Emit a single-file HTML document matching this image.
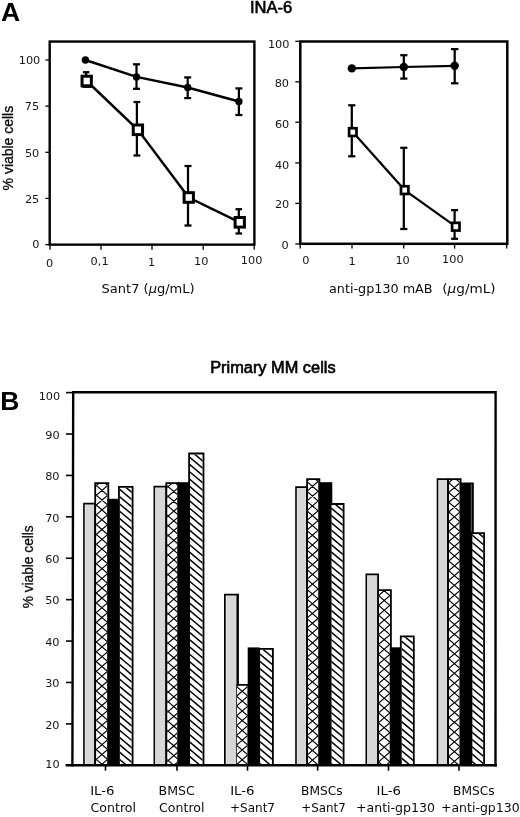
<!DOCTYPE html>
<html lang="en"><head><meta charset="utf-8"><title>INA-6 / Primary MM cells viability</title>
<style>
html,body{margin:0;padding:0;background:#fff;}
body{width:520px;height:817px;overflow:hidden;}
svg{display:block;will-change:transform;}
.dv{font-family:"DejaVu Sans", "Liberation Sans", sans-serif;}
.lb{font-family:"Liberation Sans", "DejaVu Sans", sans-serif;}
.tk{font-family:"DejaVu Sans", "Liberation Sans", sans-serif;font-size:11.3px;fill:#151515;}
.ax{font-family:"DejaVu Sans", "Liberation Sans", sans-serif;font-size:13px;fill:#0a0a0a;}
.cat{font-family:"DejaVu Sans", "Liberation Sans", sans-serif;font-size:13px;fill:#0a0a0a;}
.yl{font-family:"Liberation Sans", "DejaVu Sans", sans-serif;font-size:14px;fill:#0a0a0a;stroke:#0a0a0a;stroke-width:0.3px;}
.ttl{font-family:"Liberation Sans", "DejaVu Sans", sans-serif;font-size:15.8px;fill:#000;stroke:#000;stroke-width:0.6px;}
.pan{font-family:"Liberation Sans", "DejaVu Sans", sans-serif;font-size:26.5px;font-weight:bold;fill:#000;}
.ln{stroke:#000;fill:none;}
</style></head><body>
<svg width="520" height="817" viewBox="0 0 520 817" role="img" aria-label="Cell viability charts">
<rect x="0" y="0" width="520" height="817" fill="#fff"/>
<text class="pan" x="1" y="20.9">A</text>
<text class="pan" x="0.3" y="409.5">B</text>
<text class="ttl" x="250" y="13.3" textLength="42.3" lengthAdjust="spacingAndGlyphs">INA-6</text>
<text class="ttl" x="210.2" y="373" textLength="125.4" lengthAdjust="spacingAndGlyphs">Primary MM cells</text>
<g id="chartA1">
<rect class="ln" x="49.7" y="41.55" width="204.7" height="203.1" stroke-width="2.4"/>
<line class="ln" x1="45.4" y1="60" x2="49" y2="60" stroke-width="1.3"/>
<line class="ln" x1="45.4" y1="106.1" x2="49" y2="106.1" stroke-width="1.3"/>
<line class="ln" x1="45.4" y1="152.3" x2="49" y2="152.3" stroke-width="1.3"/>
<line class="ln" x1="45.4" y1="198.4" x2="49" y2="198.4" stroke-width="1.3"/>
<line class="ln" x1="45.4" y1="244.6" x2="49" y2="244.6" stroke-width="1.3"/>
<line class="ln" x1="50" y1="245.5" x2="50" y2="249.8" stroke-width="1.3"/>
<line class="ln" x1="101" y1="245.5" x2="101" y2="249.8" stroke-width="1.3"/>
<line class="ln" x1="152" y1="245.5" x2="152" y2="249.8" stroke-width="1.3"/>
<line class="ln" x1="203.2" y1="245.5" x2="203.2" y2="249.8" stroke-width="1.3"/>
<line class="ln" x1="254.2" y1="245.5" x2="254.2" y2="249.8" stroke-width="1.3"/>
<text class="tk" x="40.3" y="64.3" text-anchor="end">100</text>
<text class="tk" x="39.2" y="109.6" text-anchor="end">75</text>
<text class="tk" x="39.3" y="156.6" text-anchor="end">50</text>
<text class="tk" x="39.3" y="202.7" text-anchor="end">25</text>
<text class="tk" x="39.5" y="248" text-anchor="end">0</text>
<text class="tk" x="49.7" y="266.5" text-anchor="middle">0</text>
<text class="tk" x="99.6" y="265" text-anchor="middle">0,1</text>
<text class="tk" x="151.7" y="266" text-anchor="middle">1</text>
<text class="tk" x="201.3" y="264.6" text-anchor="middle">10</text>
<text class="tk" x="251.6" y="264" text-anchor="middle">100</text>
<text class="ax" x="101.5" y="292.6" textLength="93.2" lengthAdjust="spacingAndGlyphs">Sant7 (<tspan font-style="italic">µ</tspan>g/mL)</text>
<text class="yl" transform="translate(12.7 190.4) rotate(-90)" textLength="84.6" lengthAdjust="spacingAndGlyphs">% viable cells</text>
<polyline class="ln" stroke-width="2.45" points="85.4,60 136.5,76.9 187.7,87.5 238.9,101.5"/>
<line class="ln" x1="136.5" y1="64.3" x2="136.5" y2="88.8" stroke-width="2.25"/>
<line class="ln" x1="133" y1="64.3" x2="140" y2="64.3" stroke-width="2.25"/>
<line class="ln" x1="133" y1="88.8" x2="140" y2="88.8" stroke-width="2.25"/>
<line class="ln" x1="187.7" y1="77.4" x2="187.7" y2="98.1" stroke-width="2.25"/>
<line class="ln" x1="184.2" y1="77.4" x2="191.2" y2="77.4" stroke-width="2.25"/>
<line class="ln" x1="184.2" y1="98.1" x2="191.2" y2="98.1" stroke-width="2.25"/>
<line class="ln" x1="238.9" y1="88.4" x2="238.9" y2="115" stroke-width="2.25"/>
<line class="ln" x1="235.4" y1="88.4" x2="242.4" y2="88.4" stroke-width="2.25"/>
<line class="ln" x1="235.4" y1="115" x2="242.4" y2="115" stroke-width="2.25"/>
<circle cx="85.4" cy="60" r="3.7" fill="#000"/>
<circle cx="136.5" cy="76.9" r="3.7" fill="#000"/>
<circle cx="187.7" cy="87.5" r="3.7" fill="#000"/>
<circle cx="238.9" cy="101.5" r="3.7" fill="#000"/>
<polyline class="ln" stroke-width="2.45" points="86.7,81 137.9,129.8 188.75,197.5 239.75,222.3"/>
<line class="ln" x1="86.2" y1="72.2" x2="86.2" y2="76" stroke-width="2.25"/>
<line class="ln" x1="83" y1="72.2" x2="89.4" y2="72.2" stroke-width="2.25"/>
<line class="ln" x1="82.2" y1="87" x2="91.6" y2="87" stroke-width="1.8"/>
<line class="ln" x1="136.9" y1="102" x2="136.9" y2="155.5" stroke-width="2.25"/>
<line class="ln" x1="133.5" y1="102" x2="140.3" y2="102" stroke-width="2.25"/>
<line class="ln" x1="133.5" y1="155.5" x2="140.3" y2="155.5" stroke-width="2.25"/>
<line class="ln" x1="188" y1="166" x2="188" y2="225.5" stroke-width="2.25"/>
<line class="ln" x1="184.5" y1="166" x2="191.5" y2="166" stroke-width="2.25"/>
<line class="ln" x1="184.5" y1="225.5" x2="191.5" y2="225.5" stroke-width="2.25"/>
<line class="ln" x1="238.8" y1="209.2" x2="238.8" y2="233.5" stroke-width="2.25"/>
<line class="ln" x1="235.5" y1="209.2" x2="242.1" y2="209.2" stroke-width="2.25"/>
<line class="ln" x1="235.5" y1="233.5" x2="242.1" y2="233.5" stroke-width="2.25"/>
<rect x="82.05" y="76.2" width="9.3" height="9.6" fill="#fff" stroke="#000" stroke-width="3"/>
<rect x="133.25" y="125" width="9.3" height="9.6" fill="#fff" stroke="#000" stroke-width="3"/>
<rect x="184.1" y="192.7" width="9.3" height="9.6" fill="#fff" stroke="#000" stroke-width="3"/>
<rect x="235.1" y="217.5" width="9.3" height="9.6" fill="#fff" stroke="#000" stroke-width="3"/>
</g>
<g id="chartA2">
<rect class="ln" x="300.3" y="41.5" width="207" height="202.3" stroke-width="2.5"/>
<line class="ln" x1="295.3" y1="41.3" x2="299.5" y2="41.3" stroke-width="1.3"/>
<line class="ln" x1="295.3" y1="81.8" x2="299.5" y2="81.8" stroke-width="1.3"/>
<line class="ln" x1="295.3" y1="122.2" x2="299.5" y2="122.2" stroke-width="1.3"/>
<line class="ln" x1="295.3" y1="162.9" x2="299.5" y2="162.9" stroke-width="1.3"/>
<line class="ln" x1="295.3" y1="203.4" x2="299.5" y2="203.4" stroke-width="1.3"/>
<line class="ln" x1="295.3" y1="244" x2="299.5" y2="244" stroke-width="1.3"/>
<line class="ln" x1="300.2" y1="244.5" x2="300.2" y2="248.6" stroke-width="1.3"/>
<line class="ln" x1="352" y1="244.5" x2="352" y2="248.6" stroke-width="1.3"/>
<line class="ln" x1="403.7" y1="244.5" x2="403.7" y2="248.6" stroke-width="1.3"/>
<line class="ln" x1="454.6" y1="244.5" x2="454.6" y2="248.6" stroke-width="1.3"/>
<line class="ln" x1="506.7" y1="244.5" x2="506.7" y2="248.6" stroke-width="1.3"/>
<text class="tk" x="289.5" y="47.8" text-anchor="end">100</text>
<text class="tk" x="289" y="86.8" text-anchor="end">80</text>
<text class="tk" x="289.3" y="128.2" text-anchor="end">60</text>
<text class="tk" x="289.3" y="169" text-anchor="end">40</text>
<text class="tk" x="289.3" y="207.5" text-anchor="end">20</text>
<text class="tk" x="288.6" y="249.3" text-anchor="end">0</text>
<text class="tk" x="305.9" y="264.3" text-anchor="middle">0</text>
<text class="tk" x="352.2" y="265" text-anchor="middle">1</text>
<text class="tk" x="402.6" y="263.5" text-anchor="middle">10</text>
<text class="tk" x="452.9" y="263" text-anchor="middle">100</text>
<text class="ax" x="329" y="292.8" textLength="103.6" lengthAdjust="spacingAndGlyphs">anti-gp130 mAB</text>
<text class="ax" x="442.3" y="292.8" textLength="53.4" lengthAdjust="spacingAndGlyphs">(<tspan font-style="italic">µ</tspan>g/mL)</text>
<polyline class="ln" stroke-width="2.2" points="351.8,68.4 403.8,67 454.7,65.8"/>
<line class="ln" x1="403.8" y1="55.2" x2="403.8" y2="78.6" stroke-width="2.25"/>
<line class="ln" x1="400.2" y1="55.2" x2="407.4" y2="55.2" stroke-width="2.25"/>
<line class="ln" x1="400.2" y1="78.6" x2="407.4" y2="78.6" stroke-width="2.25"/>
<line class="ln" x1="454.7" y1="49.1" x2="454.7" y2="83.3" stroke-width="2.25"/>
<line class="ln" x1="451" y1="49.1" x2="458.4" y2="49.1" stroke-width="2.25"/>
<line class="ln" x1="451" y1="83.3" x2="458.4" y2="83.3" stroke-width="2.25"/>
<circle cx="351.8" cy="68.4" r="4.2" fill="#000"/>
<circle cx="403.8" cy="67" r="4.2" fill="#000"/>
<circle cx="454.7" cy="65.8" r="4.2" fill="#000"/>
<polyline class="ln" stroke-width="2.2" points="352.8,132.1 404.7,190.1 455.8,226.7"/>
<line class="ln" x1="351.8" y1="105.3" x2="351.8" y2="156.3" stroke-width="2.25"/>
<line class="ln" x1="348.2" y1="105.3" x2="355.4" y2="105.3" stroke-width="2.25"/>
<line class="ln" x1="348.2" y1="156.3" x2="355.4" y2="156.3" stroke-width="2.25"/>
<line class="ln" x1="403.8" y1="147.8" x2="403.8" y2="229" stroke-width="2.25"/>
<line class="ln" x1="400.2" y1="147.8" x2="407.4" y2="147.8" stroke-width="2.25"/>
<line class="ln" x1="400.2" y1="229" x2="407.4" y2="229" stroke-width="2.25"/>
<line class="ln" x1="454.6" y1="210.1" x2="454.6" y2="238.8" stroke-width="2.25"/>
<line class="ln" x1="451.1" y1="210.1" x2="458.1" y2="210.1" stroke-width="2.25"/>
<line class="ln" x1="451.1" y1="238.8" x2="458.1" y2="238.8" stroke-width="2.25"/>
<rect x="349.1" y="128.25" width="7.4" height="7.7" fill="#fff" stroke="#000" stroke-width="2.7"/>
<rect x="401" y="186.25" width="7.4" height="7.7" fill="#fff" stroke="#000" stroke-width="2.7"/>
<rect x="452.1" y="222.85" width="7.4" height="7.7" fill="#fff" stroke="#000" stroke-width="2.7"/>
</g>
<g id="chartB">
<rect x="83.95" y="503.60" width="11.25" height="261.70" fill="#f1f1f1"/>
<rect x="85.55" y="504.65" width="9.65" height="260.65" fill="#d7d7d7"/>
<path fill="#000" d="M83.15,765.30V502.75H96.10V765.30H94.30V504.45H84.75V765.30Z"/>
<clipPath id="c1"><rect x="96.10" y="484.10" width="11.30" height="281.20"/></clipPath>
<rect x="96.10" y="484.10" width="11.30" height="281.20" fill="#fff"/>
<path clip-path="url(#c1)" d="M95.1,455.2L108.4,466.6M95.1,466.9L108.4,455.5M95.1,465.0L108.4,476.4M95.1,476.7L108.4,465.3M95.1,474.7L108.4,486.2M95.1,486.5L108.4,475.1M95.1,484.5L108.4,495.9M95.1,496.3L108.4,484.9M95.1,494.3L108.4,505.7M95.1,506.1L108.4,494.6M95.1,504.1L108.4,515.5M95.1,515.8L108.4,504.4M95.1,513.9L108.4,525.3M95.1,525.6L108.4,514.2M95.1,523.6L108.4,535.1M95.1,535.4L108.4,524.0M95.1,533.4L108.4,544.8M95.1,545.2L108.4,533.8M95.1,543.2L108.4,554.6M95.1,555.0L108.4,543.5M95.1,553.0L108.4,564.4M95.1,564.7L108.4,553.3M95.1,562.8L108.4,574.2M95.1,574.5L108.4,563.1M95.1,572.5L108.4,584.0M95.1,584.3L108.4,572.9M95.1,582.3L108.4,593.7M95.1,594.1L108.4,582.7M95.1,592.1L108.4,603.5M95.1,603.9L108.4,592.4M95.1,601.9L108.4,613.3M95.1,613.6L108.4,602.2M95.1,611.7L108.4,623.1M95.1,623.4L108.4,612.0M95.1,621.4L108.4,632.9M95.1,633.2L108.4,621.8M95.1,631.2L108.4,642.6M95.1,643.0L108.4,631.6M95.1,641.0L108.4,652.4M95.1,652.8L108.4,641.3M95.1,650.8L108.4,662.2M95.1,662.5L108.4,651.1M95.1,660.6L108.4,672.0M95.1,672.3L108.4,660.9M95.1,670.3L108.4,681.8M95.1,682.1L108.4,670.7M95.1,680.1L108.4,691.5M95.1,691.9L108.4,680.5M95.1,689.9L108.4,701.3M95.1,701.7L108.4,690.2M95.1,699.7L108.4,711.1M95.1,711.4L108.4,700.0M95.1,709.5L108.4,720.9M95.1,721.2L108.4,709.8M95.1,719.2L108.4,730.7M95.1,731.0L108.4,719.6M95.1,729.0L108.4,740.4M95.1,740.8L108.4,729.4M95.1,738.8L108.4,750.2M95.1,750.6L108.4,739.1M95.1,748.6L108.4,760.0M95.1,760.3L108.4,748.9M95.1,758.4L108.4,769.8M95.1,770.1L108.4,758.7M95.1,768.1L108.4,779.6M95.1,779.9L108.4,768.5M95.1,777.9L108.4,789.3M95.1,789.7L108.4,778.3M95.1,787.7L108.4,799.1M95.1,799.5L108.4,788.0" stroke="#000" stroke-width="1.15" fill="none"/>
<path fill="#000" d="M94.30,765.30V482.30H109.20V765.30H107.40V484.10H96.10V765.30Z"/>
<rect x="107.40" y="498.80" width="11.40" height="266.50" fill="#000"/>
<clipPath id="c2"><rect x="119.85" y="487.70" width="11.85" height="277.60"/></clipPath>
<rect x="119.85" y="487.70" width="11.85" height="277.60" fill="#fff"/>
<path clip-path="url(#c2)" d="M118.8,459.5L132.7,471.1M118.8,466.8L132.7,478.4M118.8,474.1L132.7,485.7M118.8,481.4L132.7,493.0M118.8,488.7L132.7,500.3M118.8,496.0L132.7,507.6M118.8,503.3L132.7,514.9M118.8,510.6L132.7,522.2M118.8,517.9L132.7,529.5M118.8,525.2L132.7,536.8M118.8,532.5L132.7,544.1M118.8,539.8L132.7,551.4M118.8,547.1L132.7,558.7M118.8,554.4L132.7,566.0M118.8,561.7L132.7,573.3M118.8,569.0L132.7,580.6M118.8,576.3L132.7,587.9M118.8,583.6L132.7,595.2M118.8,590.9L132.7,602.5M118.8,598.2L132.7,609.8M118.8,605.5L132.7,617.1M118.8,612.8L132.7,624.4M118.8,620.1L132.7,631.7M118.8,627.4L132.7,639.0M118.8,634.7L132.7,646.3M118.8,642.0L132.7,653.6M118.8,649.3L132.7,660.9M118.8,656.6L132.7,668.2M118.8,663.9L132.7,675.5M118.8,671.2L132.7,682.8M118.8,678.5L132.7,690.1M118.8,685.8L132.7,697.4M118.8,693.1L132.7,704.7M118.8,700.4L132.7,712.0M118.8,707.7L132.7,719.3M118.8,715.0L132.7,726.6M118.8,722.3L132.7,733.9M118.8,729.6L132.7,741.2M118.8,736.9L132.7,748.5M118.8,744.2L132.7,755.8M118.8,751.5L132.7,763.1M118.8,758.8L132.7,770.4M118.8,766.1L132.7,777.7M118.8,773.4L132.7,785.0" stroke="#000" stroke-width="1.5" fill="none"/>
<path fill="#000" d="M118.05,765.30V485.90H133.50V765.30H131.70V487.70H119.85V765.30Z"/>
<rect x="154.30" y="486.65" width="12.00" height="278.65" fill="#f1f1f1"/>
<rect x="155.90" y="487.70" width="10.40" height="277.60" fill="#d7d7d7"/>
<path fill="#000" d="M153.50,765.30V485.80H167.20V765.30H165.40V487.50H155.10V765.30Z"/>
<clipPath id="c3"><rect x="167.20" y="484.00" width="10.30" height="281.30"/></clipPath>
<rect x="167.20" y="484.00" width="10.30" height="281.30" fill="#fff"/>
<path clip-path="url(#c3)" d="M166.2,455.6L178.5,466.2M166.2,468.7L178.5,458.1M166.2,465.4L178.5,476.0M166.2,478.5L178.5,467.9M166.2,475.2L178.5,485.8M166.2,488.2L178.5,477.7M166.2,485.0L178.5,495.5M166.2,498.0L178.5,487.5M166.2,494.8L178.5,505.3M166.2,507.8L178.5,497.2M166.2,504.5L178.5,515.1M166.2,517.6L178.5,507.0M166.2,514.3L178.5,524.9M166.2,527.4L178.5,516.8M166.2,524.1L178.5,534.7M166.2,537.1L178.5,526.6M166.2,533.9L178.5,544.4M166.2,546.9L178.5,536.4M166.2,543.7L178.5,554.2M166.2,556.7L178.5,546.1M166.2,553.4L178.5,564.0M166.2,566.5L178.5,555.9M166.2,563.2L178.5,573.8M166.2,576.3L178.5,565.7M166.2,573.0L178.5,583.6M166.2,586.0L178.5,575.5M166.2,582.8L178.5,593.3M166.2,595.8L178.5,585.3M166.2,592.6L178.5,603.1M166.2,605.6L178.5,595.0M166.2,602.3L178.5,612.9M166.2,615.4L178.5,604.8M166.2,612.1L178.5,622.7M166.2,625.2L178.5,614.6M166.2,621.9L178.5,632.5M166.2,634.9L178.5,624.4M166.2,631.7L178.5,642.2M166.2,644.7L178.5,634.2M166.2,641.5L178.5,652.0M166.2,654.5L178.5,643.9M166.2,651.2L178.5,661.8M166.2,664.3L178.5,653.7M166.2,661.0L178.5,671.6M166.2,674.1L178.5,663.5M166.2,670.8L178.5,681.4M166.2,683.8L178.5,673.3M166.2,680.6L178.5,691.1M166.2,693.6L178.5,683.1M166.2,690.4L178.5,700.9M166.2,703.4L178.5,692.8M166.2,700.1L178.5,710.7M166.2,713.2L178.5,702.6M166.2,709.9L178.5,720.5M166.2,723.0L178.5,712.4M166.2,719.7L178.5,730.3M166.2,732.7L178.5,722.2M166.2,729.5L178.5,740.0M166.2,742.5L178.5,732.0M166.2,739.3L178.5,749.8M166.2,752.3L178.5,741.7M166.2,749.0L178.5,759.6M166.2,762.1L178.5,751.5M166.2,758.8L178.5,769.4M166.2,771.9L178.5,761.3M166.2,768.6L178.5,779.2M166.2,781.6L178.5,771.1M166.2,778.4L178.5,788.9M166.2,791.4L178.5,780.9" stroke="#000" stroke-width="1.15" fill="none"/>
<path fill="#000" d="M165.40,765.30V482.20H179.30V765.30H177.50V484.00H167.20V765.30Z"/>
<rect x="177.50" y="482.20" width="12.00" height="283.10" fill="#000"/>
<clipPath id="c4"><rect x="190.00" y="454.40" width="12.60" height="310.90"/></clipPath>
<rect x="190.00" y="454.40" width="12.60" height="310.90" fill="#fff"/>
<path clip-path="url(#c4)" d="M189.0,427.5L203.6,439.8M189.0,434.8L203.6,447.1M189.0,442.1L203.6,454.4M189.0,449.4L203.6,461.7M189.0,456.7L203.6,469.0M189.0,464.0L203.6,476.3M189.0,471.3L203.6,483.6M189.0,478.6L203.6,490.9M189.0,485.9L203.6,498.2M189.0,493.2L203.6,505.5M189.0,500.5L203.6,512.8M189.0,507.8L203.6,520.1M189.0,515.1L203.6,527.4M189.0,522.4L203.6,534.7M189.0,529.7L203.6,542.0M189.0,537.0L203.6,549.3M189.0,544.3L203.6,556.6M189.0,551.6L203.6,563.9M189.0,558.9L203.6,571.2M189.0,566.2L203.6,578.5M189.0,573.5L203.6,585.8M189.0,580.8L203.6,593.1M189.0,588.1L203.6,600.4M189.0,595.4L203.6,607.7M189.0,602.7L203.6,615.0M189.0,610.0L203.6,622.3M189.0,617.3L203.6,629.6M189.0,624.6L203.6,636.9M189.0,631.9L203.6,644.2M189.0,639.2L203.6,651.5M189.0,646.5L203.6,658.8M189.0,653.8L203.6,666.1M189.0,661.1L203.6,673.4M189.0,668.4L203.6,680.7M189.0,675.7L203.6,688.0M189.0,683.0L203.6,695.3M189.0,690.3L203.6,702.6M189.0,697.6L203.6,709.9M189.0,704.9L203.6,717.2M189.0,712.2L203.6,724.5M189.0,719.5L203.6,731.8M189.0,726.8L203.6,739.1M189.0,734.1L203.6,746.4M189.0,741.4L203.6,753.7M189.0,748.7L203.6,761.0M189.0,756.0L203.6,768.3M189.0,763.3L203.6,775.6M189.0,770.6L203.6,782.9M189.0,777.9L203.6,790.2" stroke="#000" stroke-width="1.5" fill="none"/>
<path fill="#000" d="M188.20,765.30V452.60H204.40V765.30H202.60V454.40H190.00V765.30Z"/>
<rect x="224.85" y="594.70" width="12.85" height="170.60" fill="#f1f1f1"/>
<rect x="226.50" y="595.80" width="11.20" height="169.50" fill="#d7d7d7"/>
<path fill="#000" d="M224.00,765.30V593.80H238.90V765.30H236.50V595.60H225.70V765.30Z"/>
<clipPath id="c5"><rect x="236.90" y="685.80" width="10.70" height="79.50"/></clipPath>
<rect x="236.90" y="685.80" width="10.70" height="79.50" fill="#fff"/>
<path clip-path="url(#c5)" d="M235.9,656.6L248.6,667.5M235.9,667.4L248.6,656.5M235.9,666.3L248.6,677.2M235.9,677.1L248.6,666.2M235.9,676.1L248.6,687.0M235.9,686.9L248.6,676.0M235.9,685.9L248.6,696.8M235.9,696.7L248.6,685.8M235.9,695.7L248.6,706.6M235.9,706.5L248.6,695.6M235.9,705.5L248.6,716.4M235.9,716.3L248.6,705.4M235.9,715.2L248.6,726.1M235.9,726.0L248.6,715.1M235.9,725.0L248.6,735.9M235.9,735.8L248.6,724.9M235.9,734.8L248.6,745.7M235.9,745.6L248.6,734.7M235.9,744.6L248.6,755.5M235.9,755.4L248.6,744.5M235.9,754.4L248.6,765.3M235.9,765.2L248.6,754.3M235.9,764.1L248.6,775.0M235.9,774.9L248.6,764.0M235.9,773.9L248.6,784.8M235.9,784.7L248.6,773.8M235.9,783.7L248.6,794.6M235.9,794.5L248.6,783.6" stroke="#000" stroke-width="1.15" fill="none"/>
<path fill="#000" d="M236.40,765.30V684.00H249.40V765.30H247.60V685.80H236.90V765.30Z"/>
<rect x="247.70" y="647.40" width="11.90" height="117.90" fill="#000"/>
<clipPath id="c6"><rect x="260.10" y="649.80" width="11.90" height="115.50"/></clipPath>
<rect x="260.10" y="649.80" width="11.90" height="115.50" fill="#fff"/>
<path clip-path="url(#c6)" d="M259.1,624.2L273.0,635.8M259.1,631.5L273.0,643.1M259.1,638.8L273.0,650.4M259.1,646.1L273.0,657.7M259.1,653.4L273.0,665.0M259.1,660.7L273.0,672.3M259.1,668.0L273.0,679.6M259.1,675.3L273.0,686.9M259.1,682.6L273.0,694.2M259.1,689.9L273.0,701.5M259.1,697.2L273.0,708.8M259.1,704.5L273.0,716.1M259.1,711.8L273.0,723.4M259.1,719.1L273.0,730.7M259.1,726.4L273.0,738.0M259.1,733.7L273.0,745.3M259.1,741.0L273.0,752.6M259.1,748.3L273.0,759.9M259.1,755.6L273.0,767.2M259.1,762.9L273.0,774.5M259.1,770.2L273.0,781.8M259.1,777.5L273.0,789.1" stroke="#000" stroke-width="1.5" fill="none"/>
<path fill="#000" d="M258.30,765.30V648.00H273.80V765.30H272.00V649.80H260.10V765.30Z"/>
<rect x="296.00" y="487.05" width="11.00" height="278.25" fill="#f1f1f1"/>
<rect x="297.60" y="488.10" width="9.40" height="277.20" fill="#d7d7d7"/>
<path fill="#000" d="M295.20,765.30V486.20H307.90V765.30H306.10V487.90H296.80V765.30Z"/>
<clipPath id="c7"><rect x="308.00" y="480.00" width="10.50" height="285.30"/></clipPath>
<rect x="308.00" y="480.00" width="10.50" height="285.30" fill="#fff"/>
<path clip-path="url(#c7)" d="M307.0,452.4L319.5,463.1M307.0,461.6L319.5,450.9M307.0,462.1L319.5,472.9M307.0,471.4L319.5,460.7M307.0,471.9L319.5,482.7M307.0,481.2L319.5,470.5M307.0,481.7L319.5,492.4M307.0,491.0L319.5,480.2M307.0,491.5L319.5,502.2M307.0,500.8L319.5,490.0M307.0,501.3L319.5,512.0M307.0,510.5L319.5,499.8M307.0,511.0L319.5,521.8M307.0,520.3L319.5,509.6M307.0,520.8L319.5,531.6M307.0,530.1L319.5,519.4M307.0,530.6L319.5,541.3M307.0,539.9L319.5,529.1M307.0,540.4L319.5,551.1M307.0,549.7L319.5,538.9M307.0,550.2L319.5,560.9M307.0,559.4L319.5,548.7M307.0,559.9L319.5,570.7M307.0,569.2L319.5,558.5M307.0,569.7L319.5,580.5M307.0,579.0L319.5,568.3M307.0,579.5L319.5,590.2M307.0,588.8L319.5,578.0M307.0,589.3L319.5,600.0M307.0,598.6L319.5,587.8M307.0,599.1L319.5,609.8M307.0,608.3L319.5,597.6M307.0,608.8L319.5,619.6M307.0,618.1L319.5,607.4M307.0,618.6L319.5,629.4M307.0,627.9L319.5,617.2M307.0,628.4L319.5,639.1M307.0,637.7L319.5,626.9M307.0,638.2L319.5,648.9M307.0,647.5L319.5,636.7M307.0,648.0L319.5,658.7M307.0,657.2L319.5,646.5M307.0,657.7L319.5,668.5M307.0,667.0L319.5,656.3M307.0,667.5L319.5,678.3M307.0,676.8L319.5,666.1M307.0,677.3L319.5,688.0M307.0,686.6L319.5,675.8M307.0,687.1L319.5,697.8M307.0,696.4L319.5,685.6M307.0,696.9L319.5,707.6M307.0,706.1L319.5,695.4M307.0,706.6L319.5,717.4M307.0,715.9L319.5,705.2M307.0,716.4L319.5,727.2M307.0,725.7L319.5,715.0M307.0,726.2L319.5,736.9M307.0,735.5L319.5,724.7M307.0,736.0L319.5,746.7M307.0,745.3L319.5,734.5M307.0,745.8L319.5,756.5M307.0,755.0L319.5,744.3M307.0,755.5L319.5,766.3M307.0,764.8L319.5,754.1M307.0,765.3L319.5,776.1M307.0,774.6L319.5,763.9M307.0,775.1L319.5,785.8M307.0,784.4L319.5,773.6M307.0,784.9L319.5,795.6M307.0,794.2L319.5,783.4" stroke="#000" stroke-width="1.15" fill="none"/>
<path fill="#000" d="M306.20,765.30V478.20H320.30V765.30H318.50V480.00H308.00V765.30Z"/>
<rect x="318.50" y="482.20" width="13.80" height="283.10" fill="#000"/>
<clipPath id="c8"><rect x="331.30" y="504.90" width="11.40" height="260.40"/></clipPath>
<rect x="331.30" y="504.90" width="11.40" height="260.40" fill="#fff"/>
<path clip-path="url(#c8)" d="M330.3,478.2L343.7,489.4M330.3,485.5L343.7,496.7M330.3,492.8L343.7,504.0M330.3,500.1L343.7,511.3M330.3,507.4L343.7,518.6M330.3,514.7L343.7,525.9M330.3,522.0L343.7,533.2M330.3,529.3L343.7,540.5M330.3,536.6L343.7,547.8M330.3,543.9L343.7,555.1M330.3,551.2L343.7,562.4M330.3,558.5L343.7,569.7M330.3,565.8L343.7,577.0M330.3,573.1L343.7,584.3M330.3,580.4L343.7,591.6M330.3,587.7L343.7,598.9M330.3,595.0L343.7,606.2M330.3,602.3L343.7,613.5M330.3,609.6L343.7,620.8M330.3,616.9L343.7,628.1M330.3,624.2L343.7,635.4M330.3,631.5L343.7,642.7M330.3,638.8L343.7,650.0M330.3,646.1L343.7,657.3M330.3,653.4L343.7,664.6M330.3,660.7L343.7,671.9M330.3,668.0L343.7,679.2M330.3,675.3L343.7,686.5M330.3,682.6L343.7,693.8M330.3,689.9L343.7,701.1M330.3,697.2L343.7,708.4M330.3,704.5L343.7,715.7M330.3,711.8L343.7,723.0M330.3,719.1L343.7,730.3M330.3,726.4L343.7,737.6M330.3,733.7L343.7,744.9M330.3,741.0L343.7,752.2M330.3,748.3L343.7,759.5M330.3,755.6L343.7,766.8M330.3,762.9L343.7,774.1M330.3,770.2L343.7,781.4M330.3,777.5L343.7,788.7" stroke="#000" stroke-width="1.5" fill="none"/>
<path fill="#000" d="M329.50,765.30V503.10H344.50V765.30H342.70V504.90H331.30V765.30Z"/>
<rect x="366.30" y="574.35" width="11.80" height="190.95" fill="#f1f1f1"/>
<rect x="367.90" y="575.40" width="10.20" height="189.90" fill="#d7d7d7"/>
<path fill="#000" d="M365.50,765.30V573.50H379.00V765.30H377.20V575.20H367.10V765.30Z"/>
<clipPath id="c9"><rect x="379.00" y="591.00" width="11.00" height="174.30"/></clipPath>
<rect x="379.00" y="591.00" width="11.00" height="174.30" fill="#fff"/>
<path clip-path="url(#c9)" d="M378.0,556.0L391.0,567.2M378.0,566.7L391.0,555.5M378.0,565.8L391.0,577.0M378.0,576.5L391.0,565.3M378.0,575.6L391.0,586.8M378.0,586.2L391.0,575.1M378.0,585.4L391.0,596.5M378.0,596.0L391.0,584.9M378.0,595.2L391.0,606.3M378.0,605.8L391.0,594.6M378.0,604.9L391.0,616.1M378.0,615.6L391.0,604.4M378.0,614.7L391.0,625.9M378.0,625.4L391.0,614.2M378.0,624.5L391.0,635.7M378.0,635.1L391.0,624.0M378.0,634.3L391.0,645.4M378.0,644.9L391.0,633.8M378.0,644.1L391.0,655.2M378.0,654.7L391.0,643.5M378.0,653.8L391.0,665.0M378.0,664.5L391.0,653.3M378.0,663.6L391.0,674.8M378.0,674.3L391.0,663.1M378.0,673.4L391.0,684.6M378.0,684.0L391.0,672.9M378.0,683.2L391.0,694.3M378.0,693.8L391.0,682.7M378.0,693.0L391.0,704.1M378.0,703.6L391.0,692.4M378.0,702.7L391.0,713.9M378.0,713.4L391.0,702.2M378.0,712.5L391.0,723.7M378.0,723.2L391.0,712.0M378.0,722.3L391.0,733.5M378.0,732.9L391.0,721.8M378.0,732.1L391.0,743.2M378.0,742.7L391.0,731.6M378.0,741.9L391.0,753.0M378.0,752.5L391.0,741.3M378.0,751.6L391.0,762.8M378.0,762.3L391.0,751.1M378.0,761.4L391.0,772.6M378.0,772.1L391.0,760.9M378.0,771.2L391.0,782.4M378.0,781.8L391.0,770.7M378.0,781.0L391.0,792.1M378.0,791.6L391.0,780.5" stroke="#000" stroke-width="1.15" fill="none"/>
<path fill="#000" d="M377.20,765.30V589.20H391.80V765.30H390.00V591.00H379.00V765.30Z"/>
<rect x="389.70" y="647.30" width="11.10" height="118.00" fill="#000"/>
<clipPath id="c10"><rect x="401.70" y="637.30" width="11.20" height="128.00"/></clipPath>
<rect x="401.70" y="637.30" width="11.20" height="128.00" fill="#fff"/>
<path clip-path="url(#c10)" d="M400.7,611.4L413.9,622.4M400.7,618.7L413.9,629.7M400.7,626.0L413.9,637.0M400.7,633.3L413.9,644.3M400.7,640.6L413.9,651.6M400.7,647.9L413.9,658.9M400.7,655.2L413.9,666.2M400.7,662.5L413.9,673.5M400.7,669.8L413.9,680.8M400.7,677.1L413.9,688.1M400.7,684.4L413.9,695.4M400.7,691.7L413.9,702.7M400.7,699.0L413.9,710.0M400.7,706.3L413.9,717.3M400.7,713.6L413.9,724.6M400.7,720.9L413.9,731.9M400.7,728.2L413.9,739.2M400.7,735.5L413.9,746.5M400.7,742.8L413.9,753.8M400.7,750.1L413.9,761.1M400.7,757.4L413.9,768.4M400.7,764.7L413.9,775.7M400.7,772.0L413.9,783.0" stroke="#000" stroke-width="1.5" fill="none"/>
<path fill="#000" d="M399.90,765.30V635.50H414.70V765.30H412.90V637.30H401.70V765.30Z"/>
<rect x="437.50" y="479.05" width="10.60" height="286.25" fill="#f1f1f1"/>
<rect x="439.10" y="480.10" width="9.00" height="285.20" fill="#d7d7d7"/>
<path fill="#000" d="M436.70,765.30V478.20H449.00V765.30H447.20V479.90H438.30V765.30Z"/>
<clipPath id="c11"><rect x="449.00" y="480.00" width="10.70" height="285.30"/></clipPath>
<rect x="449.00" y="480.00" width="10.70" height="285.30" fill="#fff"/>
<path clip-path="url(#c11)" d="M448.0,452.7L460.7,463.6M448.0,463.7L460.7,452.8M448.0,462.5L460.7,473.4M448.0,473.5L460.7,462.6M448.0,472.3L460.7,483.2M448.0,483.3L460.7,472.4M448.0,482.1L460.7,493.0M448.0,493.1L460.7,482.2M448.0,491.9L460.7,502.8M448.0,502.9L460.7,492.0M448.0,501.6L460.7,512.5M448.0,512.6L460.7,501.7M448.0,511.4L460.7,522.3M448.0,522.4L460.7,511.5M448.0,521.2L460.7,532.1M448.0,532.2L460.7,521.3M448.0,531.0L460.7,541.9M448.0,542.0L460.7,531.1M448.0,540.8L460.7,551.7M448.0,551.8L460.7,540.9M448.0,550.5L460.7,561.4M448.0,561.5L460.7,550.6M448.0,560.3L460.7,571.2M448.0,571.3L460.7,560.4M448.0,570.1L460.7,581.0M448.0,581.1L460.7,570.2M448.0,579.9L460.7,590.8M448.0,590.9L460.7,580.0M448.0,589.7L460.7,600.6M448.0,600.7L460.7,589.8M448.0,599.4L460.7,610.3M448.0,610.4L460.7,599.5M448.0,609.2L460.7,620.1M448.0,620.2L460.7,609.3M448.0,619.0L460.7,629.9M448.0,630.0L460.7,619.1M448.0,628.8L460.7,639.7M448.0,639.8L460.7,628.9M448.0,638.6L460.7,649.5M448.0,649.6L460.7,638.7M448.0,648.3L460.7,659.2M448.0,659.3L460.7,648.4M448.0,658.1L460.7,669.0M448.0,669.1L460.7,658.2M448.0,667.9L460.7,678.8M448.0,678.9L460.7,668.0M448.0,677.7L460.7,688.6M448.0,688.7L460.7,677.8M448.0,687.5L460.7,698.4M448.0,698.5L460.7,687.6M448.0,697.2L460.7,708.1M448.0,708.2L460.7,697.3M448.0,707.0L460.7,717.9M448.0,718.0L460.7,707.1M448.0,716.8L460.7,727.7M448.0,727.8L460.7,716.9M448.0,726.6L460.7,737.5M448.0,737.6L460.7,726.7M448.0,736.4L460.7,747.3M448.0,747.4L460.7,736.5M448.0,746.1L460.7,757.0M448.0,757.1L460.7,746.2M448.0,755.9L460.7,766.8M448.0,766.9L460.7,756.0M448.0,765.7L460.7,776.6M448.0,776.7L460.7,765.8M448.0,775.5L460.7,786.4M448.0,786.5L460.7,775.6M448.0,785.3L460.7,796.2M448.0,796.3L460.7,785.4" stroke="#000" stroke-width="1.15" fill="none"/>
<path fill="#000" d="M447.20,765.30V478.20H461.50V765.30H459.70V480.00H449.00V765.30Z"/>
<rect x="459.70" y="482.50" width="14.10" height="282.80" fill="#000"/>
<clipPath id="c12"><rect x="472.20" y="534.10" width="11.00" height="231.20"/></clipPath>
<rect x="472.20" y="534.10" width="11.00" height="231.20" fill="#fff"/>
<path clip-path="url(#c12)" d="M471.2,505.2L484.2,516.1M471.2,512.5L484.2,523.4M471.2,519.8L484.2,530.7M471.2,527.1L484.2,538.0M471.2,534.4L484.2,545.3M471.2,541.7L484.2,552.6M471.2,549.0L484.2,559.9M471.2,556.3L484.2,567.2M471.2,563.6L484.2,574.5M471.2,570.9L484.2,581.8M471.2,578.2L484.2,589.1M471.2,585.5L484.2,596.4M471.2,592.8L484.2,603.7M471.2,600.1L484.2,611.0M471.2,607.4L484.2,618.3M471.2,614.7L484.2,625.6M471.2,622.0L484.2,632.9M471.2,629.3L484.2,640.2M471.2,636.6L484.2,647.5M471.2,643.9L484.2,654.8M471.2,651.2L484.2,662.1M471.2,658.5L484.2,669.4M471.2,665.8L484.2,676.7M471.2,673.1L484.2,684.0M471.2,680.4L484.2,691.3M471.2,687.7L484.2,698.6M471.2,695.0L484.2,705.9M471.2,702.3L484.2,713.2M471.2,709.6L484.2,720.5M471.2,716.9L484.2,727.8M471.2,724.2L484.2,735.1M471.2,731.5L484.2,742.4M471.2,738.8L484.2,749.7M471.2,746.1L484.2,757.0M471.2,753.4L484.2,764.3M471.2,760.7L484.2,771.6M471.2,768.0L484.2,778.9M471.2,775.3L484.2,786.2" stroke="#000" stroke-width="1.5" fill="none"/>
<path fill="#000" d="M470.40,765.30V532.30H485.00V765.30H483.20V534.10H472.20V765.30Z"/>
<line x1="471.35" y1="484" x2="471.35" y2="531.5" stroke="#8a8a8a" stroke-width="0.7"/>
<path class="ln" d="M72.4,766.5 L73.2,392.3 L495.6,392.3 L495.5,766.5" stroke-width="2.4"/>
<line class="ln" x1="65.6" y1="765.3" x2="496.8" y2="765.3" stroke-width="2.6"/>
<line class="ln" x1="66" y1="723.89" x2="72.5" y2="723.89" stroke-width="1.6"/>
<line class="ln" x1="66" y1="682.48" x2="72.5" y2="682.48" stroke-width="1.6"/>
<line class="ln" x1="66" y1="641.07" x2="72.5" y2="641.07" stroke-width="1.6"/>
<line class="ln" x1="66" y1="599.66" x2="72.5" y2="599.66" stroke-width="1.6"/>
<line class="ln" x1="66" y1="558.25" x2="72.5" y2="558.25" stroke-width="1.6"/>
<line class="ln" x1="66" y1="516.84" x2="72.5" y2="516.84" stroke-width="1.6"/>
<line class="ln" x1="66" y1="475.43" x2="72.5" y2="475.43" stroke-width="1.6"/>
<line class="ln" x1="66" y1="434.02" x2="72.5" y2="434.02" stroke-width="1.6"/>
<line class="ln" x1="66" y1="392.61" x2="72.5" y2="392.61" stroke-width="1.6"/>
<line class="ln" x1="105.5" y1="766" x2="105.5" y2="770.7" stroke-width="1.6"/>
<line class="ln" x1="177" y1="766" x2="177" y2="770.7" stroke-width="1.6"/>
<line class="ln" x1="247.5" y1="766" x2="247.5" y2="770.7" stroke-width="1.6"/>
<line class="ln" x1="317.6" y1="766" x2="317.6" y2="770.7" stroke-width="1.6"/>
<line class="ln" x1="388.5" y1="766" x2="388.5" y2="770.7" stroke-width="1.6"/>
<line class="ln" x1="459" y1="766" x2="459" y2="770.7" stroke-width="1.6"/>
<text class="tk" x="60.2" y="399.8" text-anchor="end">100</text>
<text class="tk" x="59.6" y="439.1" text-anchor="end">90</text>
<text class="tk" x="59.5" y="480.23" text-anchor="end">80</text>
<text class="tk" x="59.5" y="521.64" text-anchor="end">70</text>
<text class="tk" x="59.5" y="563.05" text-anchor="end">60</text>
<text class="tk" x="59.5" y="604.46" text-anchor="end">50</text>
<text class="tk" x="59.5" y="645.87" text-anchor="end">40</text>
<text class="tk" x="59.5" y="687.28" text-anchor="end">30</text>
<text class="tk" x="59.5" y="728.69" text-anchor="end">20</text>
<text class="tk" x="59.6" y="768" text-anchor="end">10</text>
<text class="yl" transform="translate(33.3 608.3) rotate(-90)" textLength="83" lengthAdjust="spacingAndGlyphs">% viable cells</text>
<text class="cat" x="90.2" y="795" textLength="24.3" lengthAdjust="spacingAndGlyphs">IL-6</text>
<text class="cat" x="90.6" y="812" textLength="45.4" lengthAdjust="spacingAndGlyphs">Control</text>
<text class="cat" x="158.6" y="795" textLength="36.2" lengthAdjust="spacingAndGlyphs">BMSC</text>
<text class="cat" x="159.1" y="812" textLength="45.4" lengthAdjust="spacingAndGlyphs">Control</text>
<text class="cat" x="230.2" y="795" textLength="24.3" lengthAdjust="spacingAndGlyphs">IL-6</text>
<text class="cat" x="230" y="812" textLength="45" lengthAdjust="spacingAndGlyphs">+Sant7</text>
<text class="cat" x="301.1" y="795" textLength="41.6" lengthAdjust="spacingAndGlyphs">BMSCs</text>
<text class="cat" x="301.2" y="812" textLength="44.6" lengthAdjust="spacingAndGlyphs">+Sant7</text>
<text class="cat" x="376.6" y="795" textLength="24.3" lengthAdjust="spacingAndGlyphs">IL-6</text>
<text class="cat" x="356" y="812" textLength="79" lengthAdjust="spacingAndGlyphs">+anti-gp130</text>
<text class="cat" x="453" y="795" textLength="41.6" lengthAdjust="spacingAndGlyphs">BMSCs</text>
<text class="cat" x="441" y="812" textLength="78.6" lengthAdjust="spacingAndGlyphs">+anti-gp130</text>
</g>
</svg>
</body></html>
